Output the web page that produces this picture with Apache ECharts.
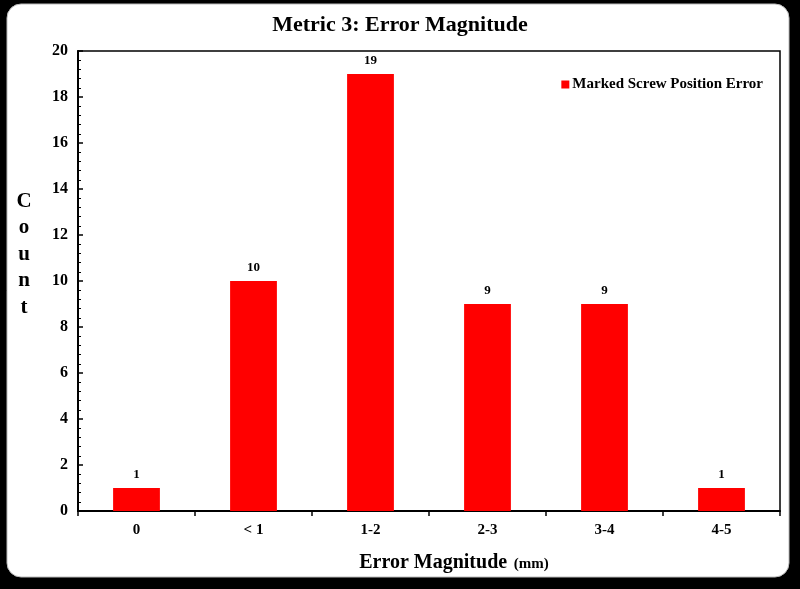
<!DOCTYPE html>
<html>
<head>
<meta charset="utf-8">
<script src="https://cdn.jsdelivr.net/npm/echarts@6/dist/echarts.min.js"></script>
<style>
  html, body { margin: 0; padding: 0; background: #000; }
  #chart { width: 800px; height: 589px; }
</style>
</head>
<body>
<div id="chart"></div>
<script>
// Error magnitude bins and how many screws fell into each
const categories = ['0', '< 1', '1-2', '2-3', '3-4', '4-5'];
const counts = [1, 10, 19, 9, 9, 1];
const seriesName = 'Marked Screw Position Error';
const yTicks = { min: 0, max: 20, interval: 2 };

const serif = '"Liberation Serif", "DejaVu Serif", serif';
const chart = echarts.init(document.getElementById('chart'));

chart.setOption({
  backgroundColor: '#000',
  animation: false,
  graphic: [{
    type: 'rect',
    z: -10,
    shape: { x: 7, y: 4, width: 782, height: 573, r: 14 },
    style: { fill: '#fff', stroke: '#bbb', lineWidth: 1 }
  }],
  title: {
    text: 'Metric 3: Error Magnitude',
    left: 'center',
    top: 9,
    textStyle: { fontFamily: serif, fontWeight: 'bold', fontSize: 22, color: '#000' }
  },
  legend: {
    data: [{ name: seriesName, icon: 'rect' }],
    right: 32,
    top: 72,
    itemWidth: 8,
    itemHeight: 8,
    itemGap: 4,
    textStyle: { fontFamily: serif, fontWeight: 'bold', fontSize: 15, color: '#000', padding: [0, 0, 0, -2] }
  },
  grid: {
    left: 78, right: 20, top: 51, bottom: 78,
    show: true, borderColor: '#000', borderWidth: 1.5, backgroundColor: 'transparent'
  },
  xAxis: {
    type: 'category',
    data: categories,
    name: '{a|Error Magnitude}  {b|(mm)}',
    nameLocation: 'middle',
    nameGap: 42,
    nameTextStyle: {
      padding: [0, 0, 0, 50],
      rich: {
        a: { fontFamily: serif, fontWeight: 'bold', fontSize: 20, color: '#000' },
        b: { fontFamily: serif, fontWeight: 'bold', fontSize: 15, color: '#000', padding: [3, 0, 0, 0] }
      }
    },
    axisLine: { lineStyle: { color: '#000', width: 2 } },
    axisTick: { show: true, length: 5, lineStyle: { color: '#000', width: 1.5 } },
    axisLabel: { fontFamily: serif, fontWeight: 'bold', fontSize: 15, color: '#000', margin: 12 }
  },
  yAxis: {
    type: 'value',
    min: yTicks.min, max: yTicks.max, interval: yTicks.interval,
    // stacked letters; the two trailing blank lines lift the word above the axis midpoint
    name: 'C\no\nu\nn\nt\n \n ',
    nameLocation: 'middle',
    nameGap: 54,
    nameRotate: 0,
    nameTextStyle: {
      fontFamily: serif, fontWeight: 'bold', fontSize: 21, color: '#000',
      lineHeight: 26.5, align: 'center'
    },
    axisLine: { show: true, lineStyle: { color: '#000', width: 2 } },
    axisTick: { show: true, inside: true, length: 5, lineStyle: { color: '#000', width: 1.5 } },
    minorTick: { show: true, splitNumber: 5, length: 3, lineStyle: { color: '#000', width: 1 } },
    splitLine: { show: false },
    axisLabel: { fontFamily: serif, fontWeight: 'bold', fontSize: 16, color: '#000', margin: 10 }
  },
  series: [{
    name: seriesName,
    type: 'bar',
    data: counts,
    barWidth: '40%',
    itemStyle: { color: '#ff0000' },
    label: {
      show: true, position: 'top', distance: 7,
      fontFamily: serif, fontWeight: 'bold', fontSize: 13, color: '#000'
    }
  }]
});
</script>
</body>
</html>
